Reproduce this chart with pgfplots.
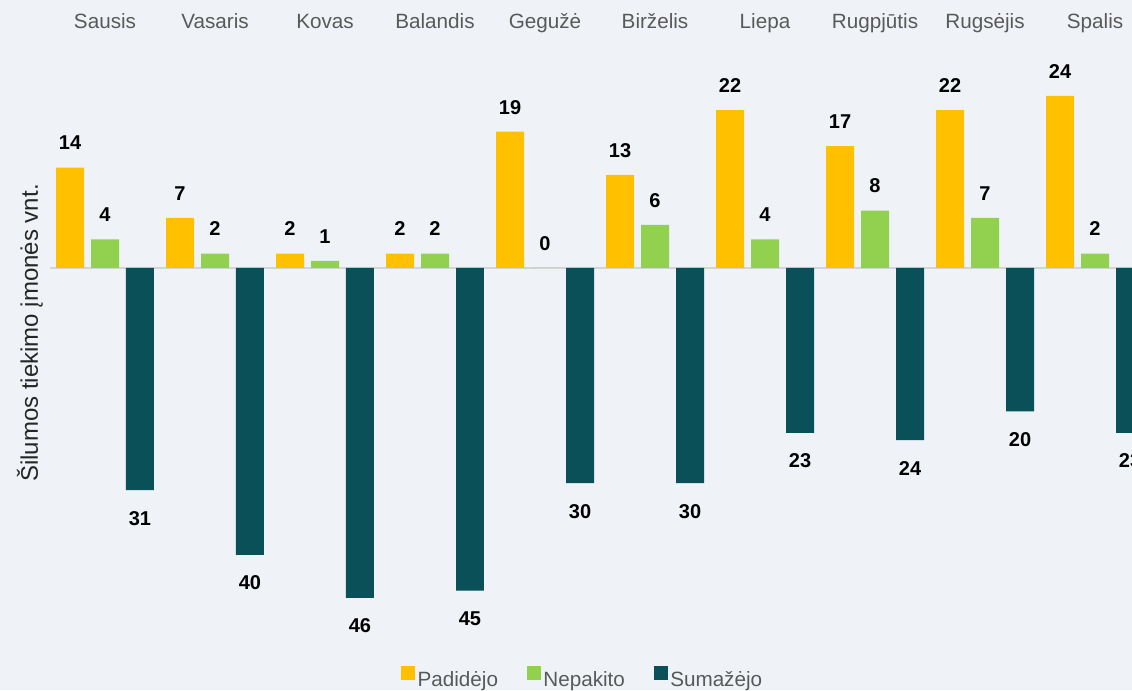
\documentclass[border=0pt]{standalone}
\usepackage{fontspec}
\setmainfont{Liberation Sans}
\usepackage{pgfplots}
\pgfplotsset{compat=1.18}
\definecolor{bgcol}{HTML}{EFF3F7}
\definecolor{cyellow}{HTML}{FFC000}
\definecolor{cgreen}{HTML}{92D050}
\definecolor{cteal}{HTML}{0A5058}
\definecolor{txtgrey}{HTML}{595959}
\definecolor{zerogrey}{HTML}{D4D4D4}

\begin{document}
\begin{tikzpicture}
% background of the whole chart (1px = 0.75pt)
\fill[bgcol] (0,0) rectangle (849pt,517.5pt);
\begin{axis}[
  at={(37.5pt,36.9pt)}, anchor=south west,
  scale only axis,
  width=811.5pt, height=447.4pt,
  xmin=-0.5, xmax=9.336,
  ymin=-52, ymax=31.2,
  ybar, bar width=0.2545,
  axis line style={draw=none},
  tick style={draw=none},
  ytick=\empty,
  xtick={0,...,9},
  xticklabels={Sausis,Vasaris,Kovas,Balandis,Gegužė,Birželis,Liepa,Rugpjūtis,Rugsėjis,Spalis},
  xticklabel pos=upper,
  xticklabel style={font=\fontsize{15.5}{18}\selectfont, text=txtgrey, anchor=base, yshift=7.5pt},
  extra y ticks={0}, extra y tick labels={},
  extra y tick style={grid=major, major grid style={draw=zerogrey, line width=1.5pt}},
  ylabel={Šilumos tiekimo įmonės vnt.},
  every axis y label/.style={at={(axis description cs:-0.0185,0.516)}, rotate=90, anchor=center,
    font=\fontsize{18}{21}\selectfont, text=black!85},
  point meta=explicit symbolic,
  nodes near coords,
  every node near coord/.append style={font=\bfseries\fontsize{15}{18}\selectfont, text=black, anchor=base},
  legend style={at={(axis description cs:0.4925,-0.064)}, anchor=center, legend columns=3,
    draw=none, fill=none, font=\fontsize{15.5}{18}\selectfont, text=txtgrey,
    /tikz/every even column/.append style={column sep=19.5pt}},
  legend image code/.code={\fill[#1] (-1.5pt,0pt) rectangle (9pt,10.5pt);},
]
\addplot[fill=cyellow, draw=none, bar shift=-0.318,
  every node near coord/.append style={yshift=13.3pt}] coordinates {
  (0,14) [14] (1,7) [7] (2,2) [2] (3,2) [2] (4,19) [19]
  (5,13) [13] (6,22) [22] (7,17) [17] (8,22) [22] (9,24) [24]
};
\addlegendentry{Padidėjo}
\addplot[fill=cgreen, draw=none, bar shift=0,
  every node near coord/.append style={yshift=13.3pt}] coordinates {
  (0,4) [4] (1,2) [2] (2,1) [1] (3,2) [2] (4,0) [0]
  (5,6) [6] (6,4) [4] (7,8) [8] (8,7) [7] (9,2) [2]
};
\addlegendentry{Nepakito}
\addplot[fill=cteal, draw=none, bar shift=0.318,
  every node near coord/.append style={yshift=-26.25pt}] coordinates {
  (0,-31) [31] (1,-40) [40] (2,-46) [46] (3,-45) [45] (4,-30) [30]
  (5,-30) [30] (6,-23) [23] (7,-24) [24] (8,-20) [20] (9,-23) [23]
};
\addlegendentry{Sumažėjo}
\end{axis}
\pgfresetboundingbox
\path[use as bounding box] (0,0) rectangle (849pt,517.5pt);
\end{tikzpicture}
\end{document}
